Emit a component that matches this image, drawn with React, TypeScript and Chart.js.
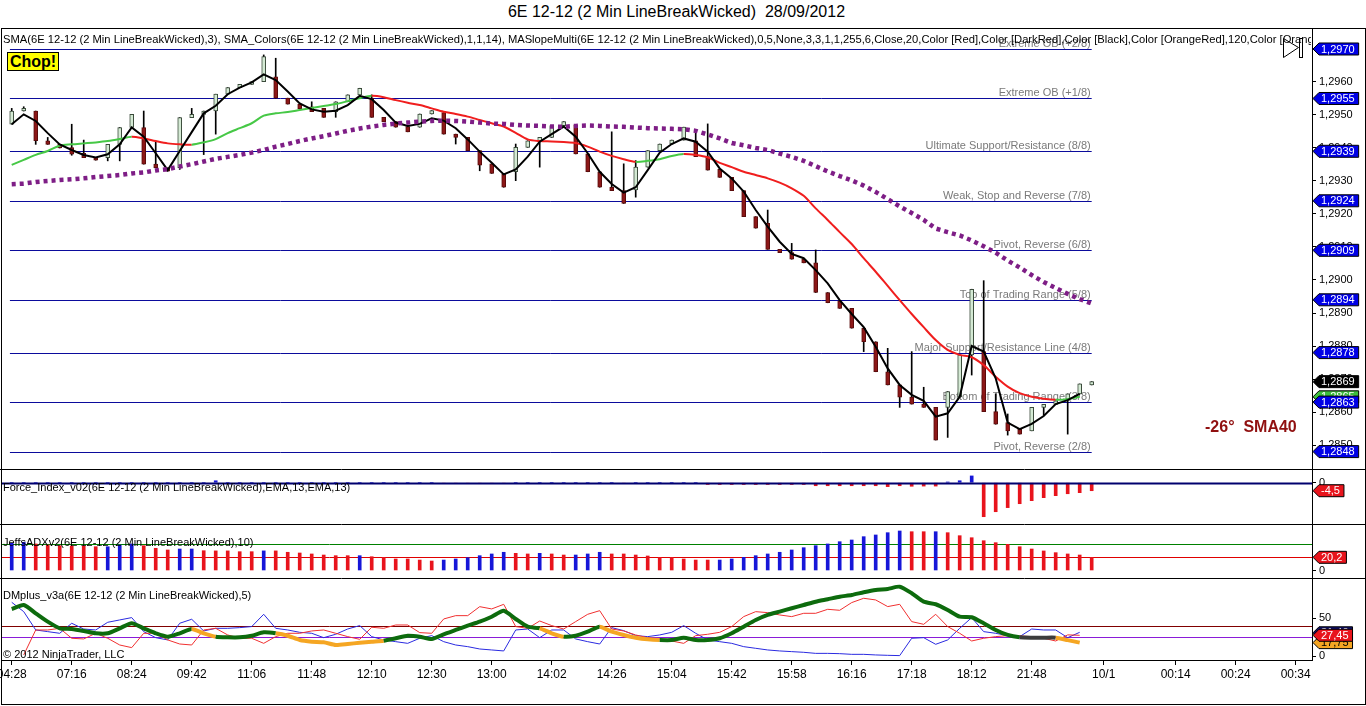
import React, { useEffect, useRef } from 'react';
import { Chart, registerables } from 'chart.js';

Chart.register(...registerables);

const FONT = 'Arial, "Liberation Sans", sans-serif';

// bar index range shown on the time axis (last bars are empty future slots)
const X_MIN = -0.81;
const X_MAX = 108.36;

const X_TICK_POS = [0, 5, 10, 15, 20, 25, 30, 35, 40, 45, 50, 55, 60, 65, 70, 75, 80, 85, 91, 97, 102, 107];
const X_TICK_LABELS = ['04:28', '07:16', '08:24', '09:42', '11:06', '11:48', '12:10', '12:30', '13:00', '14:02', '14:26',
  '15:04', '15:42', '15:58', '16:16', '17:18', '18:12', '21:48', '10/1', '00:14', '00:24', '00:34'];

// 2 min line break wicked bars
const OPEN = [1.29472, 1.29512, 1.29512, 1.29422, 1.29411, 1.29401, 1.29384, 1.29371, 1.29371, 1.29411,
  1.29462, 1.29462, 1.29351, 1.29340, 1.29340, 1.29492, 1.29502, 1.29512, 1.29563, 1.29583,
  1.29593, 1.29601, 1.29616, 1.29551, 1.29533, 1.29525, 1.29520, 1.29510, 1.29540, 1.29561,
  1.29551, 1.29493, 1.29480, 1.29465, 1.29463, 1.29503, 1.29507, 1.29442, 1.29432, 1.29392,
  1.29352, 1.29321, 1.29328, 1.29402, 1.29422, 1.29432, 1.29468, 1.29470, 1.29382, 1.29328,
  1.29281, 1.29271, 1.29273, 1.29342, 1.29392, 1.29412, 1.29424, 1.29422, 1.29374, 1.29335,
  1.29311, 1.29271, 1.29192, 1.29172, 1.29093, 1.29083, 1.29063, 1.29052, 1.28962, 1.28937,
  1.28914, 1.28854, 1.28813, 1.28722, 1.28682, 1.28645, 1.28624, 1.28614, 1.28614, 1.28646,
  1.28773, 1.28783, 1.28601, 1.28568, 1.28549, 1.28543, 1.28614, 1.28623, 1.28639, 1.28655,
  1.28682];
const HIGH = [1.29520, 1.29525, 1.29512, 1.29432, 1.29411, 1.29472, 1.29424, 1.29371, 1.29411, 1.29462,
  1.29502, 1.29512, 1.29421, 1.29340, 1.29492, 1.29520, 1.29512, 1.29563, 1.29583, 1.29593,
  1.29601, 1.29682, 1.29672, 1.29551, 1.29533, 1.29540, 1.29520, 1.29540, 1.29561, 1.29581,
  1.29561, 1.29493, 1.29480, 1.29465, 1.29503, 1.29513, 1.29507, 1.29442, 1.29432, 1.29392,
  1.29352, 1.29321, 1.29412, 1.29422, 1.29432, 1.29468, 1.29480, 1.29470, 1.29382, 1.29328,
  1.29449, 1.29352, 1.29362, 1.29392, 1.29412, 1.29424, 1.29463, 1.29455, 1.29473, 1.29335,
  1.29311, 1.29271, 1.29192, 1.29212, 1.29093, 1.29111, 1.29063, 1.29091, 1.28962, 1.28937,
  1.28914, 1.28854, 1.28813, 1.28793, 1.28682, 1.28783, 1.28675, 1.28614, 1.28662, 1.28773,
  1.28972, 1.28998, 1.28655, 1.28594, 1.28549, 1.28614, 1.28623, 1.28634, 1.28655, 1.28685,
  1.28692];
const LOW = [1.29472, 1.29512, 1.29411, 1.29411, 1.29400, 1.29378, 1.29371, 1.29363, 1.29361, 1.29361,
  1.29462, 1.29351, 1.29340, 1.29330, 1.29335, 1.29492, 1.29380, 1.29442, 1.29563, 1.29583,
  1.29593, 1.29601, 1.29551, 1.29533, 1.29519, 1.29510, 1.29493, 1.29493, 1.29540, 1.29561,
  1.29493, 1.29480, 1.29463, 1.29449, 1.29463, 1.29503, 1.29442, 1.29412, 1.29392, 1.29331,
  1.29323, 1.29281, 1.29301, 1.29402, 1.29342, 1.29432, 1.29468, 1.29382, 1.29328, 1.29281,
  1.29271, 1.29232, 1.29251, 1.29342, 1.29392, 1.29412, 1.29424, 1.29374, 1.29333, 1.29311,
  1.29271, 1.29192, 1.29157, 1.29093, 1.29083, 1.29063, 1.29052, 1.28962, 1.28931, 1.28914,
  1.28854, 1.28783, 1.28722, 1.28682, 1.28614, 1.28624, 1.28614, 1.28515, 1.28523, 1.28646,
  1.28712, 1.28601, 1.28563, 1.28530, 1.28533, 1.28543, 1.28591, 1.28623, 1.28533, 1.28655,
  1.28682];
const CLOSE = [1.29512, 1.29520, 1.29422, 1.29411, 1.29400, 1.29381, 1.29371, 1.29363, 1.29411, 1.29462,
  1.29502, 1.29351, 1.29340, 1.29330, 1.29492, 1.29502, 1.29512, 1.29563, 1.29583, 1.29593,
  1.29601, 1.29677, 1.29551, 1.29533, 1.29519, 1.29510, 1.29493, 1.29540, 1.29561, 1.29581,
  1.29493, 1.29480, 1.29463, 1.29449, 1.29503, 1.29513, 1.29442, 1.29432, 1.29392, 1.29348,
  1.29323, 1.29281, 1.29402, 1.29422, 1.29432, 1.29468, 1.29480, 1.29382, 1.29328, 1.29281,
  1.29271, 1.29232, 1.29342, 1.29392, 1.29412, 1.29424, 1.29463, 1.29374, 1.29333, 1.29311,
  1.29271, 1.29192, 1.29157, 1.29093, 1.29083, 1.29063, 1.29052, 1.28962, 1.28931, 1.28914,
  1.28854, 1.28813, 1.28722, 1.28682, 1.28645, 1.28624, 1.28614, 1.28515, 1.28662, 1.28773,
  1.28972, 1.28601, 1.28563, 1.28543, 1.28533, 1.28614, 1.28623, 1.28634, 1.28655, 1.28685,
  1.28692];

// SMA(3) - black
const SMA3 = [1.29472, 1.29502, 1.29482, 1.29445, 1.29411, 1.29394, 1.29379, 1.29371, 1.29381, 1.29411,
  1.29462, 1.29434, 1.29384, 1.29333, 1.29391, 1.29448, 1.29505, 1.29528, 1.29563, 1.29583,
  1.29599, 1.29623, 1.29606, 1.29571, 1.29535, 1.29517, 1.29510, 1.29513, 1.29530, 1.29558,
  1.29548, 1.29515, 1.29477, 1.29467, 1.29473, 1.29490, 1.29483, 1.29460, 1.29426, 1.29389,
  1.29355, 1.29320, 1.29335, 1.29374, 1.29419, 1.29442, 1.29465, 1.29434, 1.29384, 1.29328,
  1.29291, 1.29265, 1.29281, 1.29333, 1.29386, 1.29412, 1.29429, 1.29419, 1.29389, 1.29338,
  1.29308, 1.29268, 1.29212, 1.29162, 1.29116, 1.29079, 1.29066, 1.29030, 1.28990, 1.28939,
  1.28897, 1.28857, 1.28798, 1.28732, 1.28682, 1.28652, 1.28634, 1.28586, 1.28596, 1.28646,
  1.28800, 1.28783, 1.28702, 1.28568, 1.28548, 1.28564, 1.28588, 1.28624, 1.28636, 1.28655,
  null];

// SMA_Colors(14) - green rising / red falling
const SMA14 = [1.29349, 1.29364, 1.29379, 1.29391, 1.29407, 1.29411, 1.29414, 1.29417, 1.29421, 1.29427,
  1.29434, 1.29429, 1.29421, 1.29414, 1.29411, 1.29410, 1.29417, 1.29427, 1.29445, 1.29460,
  1.29475, 1.29498, 1.29505, 1.29509, 1.29515, 1.29521, 1.29527, 1.29533, 1.29542, 1.29551,
  1.29558, 1.29554, 1.29545, 1.29537, 1.29530, 1.29520, 1.29510, 1.29503, 1.29495, 1.29485,
  1.29475, 1.29465, 1.29446, 1.29426, 1.29421, 1.29420, 1.29418, 1.29415, 1.29404, 1.29389,
  1.29376, 1.29366, 1.29358, 1.29361, 1.29366, 1.29376, 1.29382, 1.29379, 1.29372, 1.29355,
  1.29342, 1.29328, 1.29318, 1.29308, 1.29295, 1.29278, 1.29255, 1.29217, 1.29182, 1.29145,
  1.29109, 1.29066, 1.29025, 1.28982, 1.28939, 1.28897, 1.28857, 1.28818, 1.28788, 1.28773,
  1.28766, 1.28742, 1.28707, 1.28677, 1.28657, 1.28646, 1.28640, 1.28637, 1.28639, 1.28646,
  null];

// MASlopeMulti SMA40 - purple dots
const SLOPE_MA = [1.29290, 1.29292, 1.29297, 1.29300, 1.29303, 1.29305, 1.29308, 1.29312, 1.29315, 1.29318,
  1.29323, 1.29326, 1.29332, 1.29336, 1.29344, 1.29351, 1.29359, 1.29367, 1.29373, 1.29379,
  1.29386, 1.29394, 1.29404, 1.29412, 1.29421, 1.29429, 1.29436, 1.29444, 1.29452, 1.29459,
  1.29465, 1.29470, 1.29474, 1.29477, 1.29480, 1.29482, 1.29483, 1.29482, 1.29480, 1.29477,
  1.29474, 1.29473, 1.29470, 1.29468, 1.29467, 1.29465, 1.29464, 1.29467, 1.29468, 1.29467,
  1.29465, 1.29464, 1.29462, 1.29460, 1.29459, 1.29458, 1.29457, 1.29452, 1.29441, 1.29429,
  1.29415, 1.29408, 1.29400, 1.29394, 1.29383, 1.29373, 1.29361, 1.29345, 1.29329, 1.29315,
  1.29302, 1.29286, 1.29267, 1.29245, 1.29223, 1.29203, 1.29182, 1.29156, 1.29145, 1.29135,
  1.29120, 1.29102, 1.29083, 1.29059, 1.29038, 1.29015, 1.28994, 1.28976, 1.28958, 1.28942,
  1.28929];

const MURREY_LEVELS = [1.2970, 1.2955, 1.2939, 1.2924, 1.2909, 1.2894, 1.2878, 1.2863, 1.2848];
const MURREY_LABELS = ['Extreme OB (+2/8)', 'Extreme OB (+1/8)', 'Ultimate Support/Resistance (8/8)',
  'Weak, Stop and Reverse (7/8)', 'Pivot, Reverse (6/8)', 'Top of Trading Range (5/8)',
  'Major Support/Resistance Line (4/8)', 'Bottom of Trading Range (3/8)', 'Pivot, Reverse (2/8)'];
const MURREY_FROM = -0.15;
const MURREY_TO = 90;

const MAIN_TICKS = [1.2850, 1.2860, 1.2870, 1.2880, 1.2890, 1.2900, 1.2910, 1.2920, 1.2930, 1.2940, 1.2950, 1.2960, 1.2970];

// Force_Index_v02
const FORCE = [0, 0, 0, 0, 0, 0, 0, 0, 0, 0,
  0, 0, 0, 0, 0, 0, 0, 1.1, 0, 0,
  0, 0, 0, 0, 0, 0, 0, 0, 0, 0,
  0, 0, 0, 0, 0, 0, -0.5, -0.5, -0.5, -0.4,
  -0.4, -0.3, 0, 0, 0, 0, 0, 0, 0, 0,
  0, -0.4, 0, 0, 0, 0, 0, 0, -1, -1,
  -1, -1, -1, -1, -1, -1, -1, -1.7, -1.7, -1.7,
  -1.7, -1.7, -1.7, -2.2, -1.7, -2, -1.9, -1.9, 0.4, 1.1,
  3.8, -19.1, -16.3, -14, -11.8, -10.1, -8.4, -7.3, -6.2, -5.6,
  -4.5];

// JeffsADXv2
const ADX = [41.6, 43.2, 40.6, 39, 38, 37.5, 37.5, 36.4, 36.4, 39,
  40.6, 38, 34, 31.4, 32.9, 32.9, 30.3, 30, 30, 28.8,
  28.8, 30, 30, 27.9, 26.8, 25.3, 23.7, 22.7, 22.7, 22.7,
  21.1, 20.2, 17.6, 17.6, 16, 14.5, 16, 17.6, 19.6, 22.7,
  25.3, 27.9, 26.3, 25.3, 26.3, 25.3, 23.7, 23.7, 25.3, 27.9,
  25.3, 25.3, 23.7, 22.2, 20.2, 20.2, 17.6, 16, 16, 16,
  17.6, 20.2, 22.7, 25.3, 27.9, 31.4, 34.9, 38, 40.6, 44.1,
  46.7, 51.8, 54.4, 57.9, 60.5, 59.4, 59.4, 59.4, 57.9, 53.3,
  50.2, 45.6, 42.6, 40.1, 36.4, 32.9, 29.9, 27.3, 25.3, 23.7,
  20.2];
// 1 = +DI leads (blue), -1 = -DI leads (red)
const ADX_DIR = [1, 1, -1, -1, -1, -1, -1, -1, 1, 1,
  1, -1, -1, -1, 1, 1, -1, -1, -1, -1,
  -1, 1, -1, -1, -1, -1, -1, -1, -1, 1,
  -1, -1, -1, -1, -1, -1, 1, 1, 1, 1,
  1, 1, -1, -1, 1, -1, -1, 1, 1, 1,
  -1, -1, -1, -1, -1, -1, -1, -1, -1, 1,
  1, 1, 1, 1, 1, 1, 1, 1, 1, 1,
  1, 1, 1, 1, 1, -1, -1, 1, -1, -1,
  -1, -1, -1, -1, -1, -1, -1, -1, -1, -1,
  -1];
const ADX_LEVELS = [40, 20];

// DMplus_v3a
const DM_MAIN = [62.3, 67.6, 56.6, 45.5, 36.7, 35.8, 33.2, 30.1, 30.1, 36.7,
  43.4, 36.7, 30.1, 25.6, 30.1, 35.8, 30.1, 25.6, 24.8, 24.8,
  26.9, 31.4, 30.1, 26.9, 21.2, 19, 18.2, 14.6, 15.9, 17.6,
  19, 20.3, 23.5, 26.9, 25.6, 22.5, 28.8, 34.5, 40.2, 45.5,
  52.1, 60.1, 49.1, 38.9, 36.7, 30.1, 25.6, 26.9, 32.2, 38.9,
  32.2, 27.9, 24.3, 22.1, 21.2, 21.2, 24.3, 21.2, 21.2, 23.5,
  30.1, 38.9, 47.7, 54.4, 58.8, 63.3, 67.6, 72, 75.2, 78.6,
  80.9, 84.5, 87.5, 88.9, 91.9, 83.2, 72, 68.6, 61, 52.1,
  51.3, 43.4, 34.5, 27.9, 24.8, 24.3, 24.3, 24.3, 21, 17.75];
// 1 = trending, 0 = weak, 2 = flat
const DM_TREND = [1, 1, 1, 1, 1, 1, 1, 1, 1, 1,
  1, 1, 1, 1, 1, 0, 0, 1, 1, 1,
  1, 1, 0, 0, 0, 0, 0, 0, 0, 0,
  0, 1, 1, 1, 1, 1, 1, 1, 1, 1,
  1, 1, 1, 1, 0, 0, 1, 1, 1, 0,
  0, 0, 0, 0, 1, 1, 1, 1, 1, 1,
  1, 1, 1, 1, 1, 1, 1, 1, 1, 1,
  1, 1, 1, 1, 1, 1, 1, 1, 1, 1,
  1, 1, 1, 1, 2, 2, 2, 0, 0, 0];
const DM_PLUS = [null, 1.4, 34.5, 34.5, 36.7, 23.5, 22.6, 30.1, 23.5, 14.6,
  11.1, 30.1, 30.1, 21.3, 15.9, 14.6, 34.5, 36.7, 27.9, 23.5,
  23.5, 16.8, 25.7, 30.1, 30.1, 33.2, 34.5, 30.1, 25.7, 22.1,
  38.1, 36.7, 41.1, 41.1, 31, 30.1, 49.1, 53.5, 53.5, 65.4,
  62.4, 68.5, 39, 36.7, 46.4, 40.3, 35.8, 45.6, 55.3, 60.1,
  35.8, 33.2, 27.9, 24.3, 22.6, 19.9, 16.8, 27, 28.8, 31.4,
  39, 52.2, 58.8, 57.5, 54.4, 52.2, 56.6, 56.6, 61.9, 60.6,
  70.8, 76.5, 74.3, 65.5, 68.5, 45.6, 42, 55.3, 39, 30.1,
  19.9, 23.5, 25.7, 27, 26.6, 25.7, 23.5, 19.9, 28, 27.45];
const DM_MINUS = [71.2, 58.8, 34.5, 32.3, 30.1, 43.4, 35.8, 34.5, 44.7, 47.8,
  50.9, 32.3, 24.3, 21.3, 43.4, 48.7, 33.2, 36.7, 36.7, 37.6,
  39, 55.3, 36.7, 34.5, 31.4, 30.1, 24.3, 28.8, 35.8, 40.3,
  25.7, 21.3, 19, 16.8, 23.5, 27, 19, 14.6, 12.4, 9.3,
  8, 6.7, 34.5, 35.8, 24.3, 34.5, 34.5, 22.6, 19, 15.9,
  37.6, 33.6, 27, 25.7, 27.9, 31.4, 40.3, 30.1, 21.3, 19,
  16.8, 12.4, 10.2, 8, 6.7, 5.8, 4.9, 3.5, 3.5, 3.1,
  2.2, 2.2, 1.4, 0.9, 0.5, 23.5, 24.3, 15.5, 21.3, 36.7,
  50.9, 32.3, 30.1, 27, 25.7, 35.8, 34.5, 34.5, 24.3, 31.4];
const DM_LEVELS = [40, 25];
const DM_TICKS = [0, 50];

const UP_BODY = '#D4EAD4';
const DOWN_BODY = '#8C1818';
const RED = '#E8141C';
const BLUE = '#1616D8';
const TREND_COLORS = ['#F5A623', '#0D6B0D', '#3C3C3C'];

const fmt = (v: number, d: number) => v.toFixed(d).replace('.', ',');
const pts = (arr: (number | null)[]) => arr.map((y, x) => ({ x, y }));

function drawTag(ctx: CanvasRenderingContext2D, x: number, y: number, text: string, fill: string, color = '#fff') {
  ctx.save();
  ctx.font = `11px ${FONT}`;
  const w = ctx.measureText(text).width + 6;
  const h = 12;
  ctx.beginPath();
  ctx.moveTo(x, y);
  ctx.lineTo(x + 6, y - h / 2);
  ctx.lineTo(x + 6 + w, y - h / 2);
  ctx.lineTo(x + 6 + w, y + h / 2);
  ctx.lineTo(x + 6, y + h / 2);
  ctx.closePath();
  ctx.fillStyle = fill;
  ctx.fill();
  ctx.strokeStyle = '#000';
  ctx.lineWidth = 1;
  ctx.stroke();
  ctx.fillStyle = color;
  ctx.textAlign = 'left';
  ctx.textBaseline = 'middle';
  ctx.fillText(text, x + 8, y + 0.5);
  ctx.restore();
}

function topSeparator(chart: any) {
  const { ctx, width } = chart;
  ctx.save();
  ctx.strokeStyle = '#000';
  ctx.lineWidth = 1;
  ctx.beginPath();
  ctx.moveTo(0, 0.5);
  ctx.lineTo(width, 0.5);
  ctx.stroke();
  ctx.restore();
}

function levelLines(chart: any, levels: number[], colors: string[], lineWidth = 1) {
  const { ctx, chartArea, scales } = chart;
  ctx.save();
  levels.forEach((v, k) => {
    const py = Math.round(scales.y.getPixelForValue(v)) + 0.5;
    ctx.strokeStyle = colors[k];
    ctx.lineWidth = lineWidth;
    ctx.beginPath();
    ctx.moveTo(chartArea.left, py);
    ctx.lineTo(chartArea.right, py);
    ctx.stroke();
  });
  ctx.restore();
}

const xScale = (display: boolean) => ({
  type: 'linear' as const,
  min: X_MIN,
  max: X_MAX,
  offset: false,
  display,
  afterBuildTicks: (s: any) => { s.ticks = X_TICK_POS.map((value) => ({ value })); },
  afterFit: (s: any) => {
    s.height = display ? 45 : 0;
    s.paddingLeft = 0;
    s.paddingRight = 0;
  },
  grid: { drawOnChartArea: false, drawTicks: true, tickLength: 5, color: '#000' },
  border: { display: true, color: '#000' },
  ticks: {
    autoSkip: false, maxRotation: 0, padding: 2, color: '#000',
    font: { family: FONT, size: 12 },
    callback: (v: any) => X_TICK_LABELS[X_TICK_POS.indexOf(v)] ?? '',
  },
});

const yScale = (min: number, max: number, ticks: number[], format: (v: number) => string) => ({
  type: 'linear' as const,
  position: 'right' as const,
  min,
  max,
  beginAtZero: false,
  afterBuildTicks: (s: any) => { s.ticks = ticks.map((value) => ({ value })); },
  afterFit: (s: any) => { s.width = 54; s.paddingTop = 0; s.paddingBottom = 0; },
  grid: { drawOnChartArea: false, drawTicks: true, tickLength: 4, color: '#000' },
  border: { display: true, color: '#000' },
  ticks: { padding: 3, color: '#000', font: { family: FONT, size: 11 }, callback: (v: any) => format(v) },
});

const baseOptions = {
  animation: false as const,
  responsive: false,
  events: [] as any[],
  layout: { padding: { left: 2, right: 0, top: 0, bottom: 0 } },
  plugins: { legend: { display: false }, tooltip: { enabled: false }, title: { display: false } },
};

const mainDecor = {
  id: 'mainDecor',
  beforeDatasetsDraw(chart: any) {
    const { ctx, scales } = chart;
    const x0 = scales.x.getPixelForValue(MURREY_FROM);
    const x1 = scales.x.getPixelForValue(MURREY_TO);
    ctx.save();
    MURREY_LEVELS.forEach((v, k) => {
      const py = Math.round(scales.y.getPixelForValue(v)) + 0.5;
      ctx.strokeStyle = '#0B0B9C';
      ctx.lineWidth = 1;
      ctx.beginPath();
      ctx.moveTo(x0, py);
      ctx.lineTo(x1, py);
      ctx.stroke();
      ctx.font = `11px ${FONT}`;
      ctx.fillStyle = '#7A7A7A';
      ctx.textAlign = 'right';
      ctx.textBaseline = 'alphabetic';
      ctx.fillText(MURREY_LABELS[k], x1 - 1, py - 3);
    });
    ctx.restore();
  },
  afterDraw(chart: any) {
    const { ctx, scales, chartArea } = chart;
    const tx = chartArea.right + 1;
    const last = CLOSE.length - 1;
    drawTag(ctx, tx, scales.y.getPixelForValue(SMA14[last - 1] as number), fmt(SMA14[last - 1] as number, 4), '#3DBE3D');
    drawTag(ctx, tx, scales.y.getPixelForValue(CLOSE[last]), fmt(CLOSE[last], 4), '#000');
    MURREY_LEVELS.forEach((v) => drawTag(ctx, tx, scales.y.getPixelForValue(v), fmt(v, 4), '#0000E6'));
    // go-to-end icon
    ctx.save();
    ctx.strokeStyle = '#000';
    ctx.lineWidth = 1;
    ctx.beginPath();
    ctx.moveTo(1283.5, 10.5);
    ctx.lineTo(1298.5, 19.5);
    ctx.lineTo(1283.5, 29.5);
    ctx.closePath();
    ctx.stroke();
    ctx.strokeRect(1299.5, 10.5, 3, 19);
    ctx.restore();
  },
};

const forceDecor = {
  id: 'forceDecor',
  afterDatasetsDraw(chart: any) { levelLines(chart, [0], ['#00006E'], 2); },
  afterDraw(chart: any) {
    topSeparator(chart);
    const v = FORCE[FORCE.length - 1];
    drawTag(chart.ctx, chart.chartArea.right + 1, chart.scales.y.getPixelForValue(v), fmt(v, 1), RED);
  },
};

const adxDecor = {
  id: 'adxDecor',
  beforeDatasetsDraw(chart: any) { levelLines(chart, ADX_LEVELS, ['#008000', '#E00000']); },
  afterDraw(chart: any) {
    topSeparator(chart);
    const v = ADX[ADX.length - 1];
    drawTag(chart.ctx, chart.chartArea.right + 1, chart.scales.y.getPixelForValue(v), fmt(v, 1), RED);
  },
};

const dmDecor = {
  id: 'dmDecor',
  beforeDatasetsDraw(chart: any) { levelLines(chart, DM_LEVELS, ['#800000', '#8A1BD8']); },
  afterDraw(chart: any) {
    topSeparator(chart);
    const { ctx, scales, chartArea } = chart;
    const tx = chartArea.right + 1;
    const n = DM_MAIN.length - 1;
    const redY = scales.y.getPixelForValue(DM_PLUS[n] as number);
    // blue tag sits almost fully behind the red one
    drawTag(ctx, tx, redY - 2.5, fmt(DM_MINUS[n], 2), '#10106A');
    drawTag(ctx, tx, scales.y.getPixelForValue(DM_MAIN[n]), fmt(DM_MAIN[n], 2), '#F5A623', '#000');
    drawTag(ctx, tx, redY, fmt(DM_PLUS[n] as number, 2), RED);
  },
};

const textStyle: React.CSSProperties = {
  position: 'absolute', fontFamily: FONT, color: '#000', whiteSpace: 'pre', pointerEvents: 'none',
};

export default function App() {
  const mainRef = useRef<HTMLCanvasElement>(null);
  const forceRef = useRef<HTMLCanvasElement>(null);
  const adxRef = useRef<HTMLCanvasElement>(null);
  const dmRef = useRef<HTMLCanvasElement>(null);

  useEffect(() => {
    const charts: Chart[] = [];

    if (mainRef.current) {
      charts.push(new Chart(mainRef.current, {
        type: 'bar',
        data: {
          datasets: [
            {
              type: 'line', data: pts(SLOPE_MA), borderColor: '#7E1E86', borderWidth: 4.5,
              borderDash: [4, 4], borderCapStyle: 'butt', pointRadius: 0, order: 0,
            } as any,
            {
              type: 'line', data: pts(SMA3), borderColor: '#000', borderWidth: 2, pointRadius: 0,
              tension: 0, order: 1,
            },
            {
              type: 'line', data: pts(SMA14), borderColor: '#F01E1E', borderWidth: 2, pointRadius: 0,
              tension: 0.3, order: 2,
              segment: { borderColor: (c: any) => (c.p1.parsed.y >= c.p0.parsed.y ? '#46C846' : '#F01E1E') },
            },
            {
              type: 'bar', data: OPEN.map((o, i) => ({ x: i, y: [o, CLOSE[i]] })) as any,
              backgroundColor: (c: any) => (CLOSE[c.dataIndex] >= OPEN[c.dataIndex] ? UP_BODY : DOWN_BODY),
              borderColor: (c: any) => (CLOSE[c.dataIndex] >= OPEN[c.dataIndex] ? '#3A4A3A' : '#5A0C0C'),
              borderWidth: 1, borderSkipped: false, barThickness: 4, minBarLength: 2, grouped: false, order: 3,
            },
            {
              type: 'bar', data: LOW.map((l, i) => ({ x: i, y: [l, HIGH[i]] })) as any,
              backgroundColor: '#000', borderWidth: 0, barThickness: 1, grouped: false, order: 4,
            },
          ],
        },
        options: {
          ...baseOptions,
          scales: {
            x: xScale(false),
            y: yScale(1.284273, 1.297636, MAIN_TICKS, (v) => fmt(v, 4)),
          },
        } as any,
        plugins: [mainDecor],
      }));
    }

    if (forceRef.current) {
      charts.push(new Chart(forceRef.current, {
        type: 'bar',
        data: {
          datasets: [{
            data: pts(FORCE) as any,
            backgroundColor: (c: any) => (FORCE[c.dataIndex] >= 0 ? BLUE : RED),
            borderWidth: 0, barThickness: 3, grouped: false,
          }],
        },
        options: {
          ...baseOptions,
          scales: { x: xScale(false), y: yScale(-23.2, 7.7, [0], (v) => String(v)) },
        } as any,
        plugins: [forceDecor],
      }));
    }

    if (adxRef.current) {
      charts.push(new Chart(adxRef.current, {
        type: 'bar',
        data: {
          datasets: [{
            data: pts(ADX) as any,
            backgroundColor: (c: any) => (ADX_DIR[c.dataIndex] > 0 ? BLUE : RED),
            borderWidth: 0, barThickness: 3, grouped: false,
          }],
        },
        options: {
          ...baseOptions,
          scales: { x: xScale(false), y: yScale(-11.5, 71.2, [0], (v) => String(v)) },
        } as any,
        plugins: [adxDecor],
      }));
    }

    if (dmRef.current) {
      charts.push(new Chart(dmRef.current, {
        type: 'line',
        data: {
          datasets: [
            {
              data: pts(DM_MAIN), borderColor: TREND_COLORS[1], borderWidth: 4, pointRadius: 0,
              tension: 0.2, order: 0,
              segment: { borderColor: (c: any) => TREND_COLORS[DM_TREND[c.p0DataIndex]] },
            },
            { data: pts(DM_PLUS), borderColor: '#F03030', borderWidth: 1, pointRadius: 0, order: 1 },
            { data: pts(DM_MINUS), borderColor: '#2A2AE0', borderWidth: 1, pointRadius: 0, order: 2 },
          ],
        },
        options: {
          ...baseOptions,
          scales: { x: xScale(true), y: yScale(-5.3, 103.4, DM_TICKS, (v) => String(v)) },
        } as any,
        plugins: [dmDecor],
      }));
    }

    return () => charts.forEach((c) => c.destroy());
  }, []);

  const canvasStyle = (top: number, height: number): React.CSSProperties => ({
    position: 'absolute', left: 0, top, width: 1366, height,
  });

  return (
    <div style={{ position: 'absolute', left: 0, top: 0, width: 1366, height: 706, background: '#fff', overflow: 'hidden' }}>
      <div style={{ ...textStyle, left: 0, top: 3, width: 1353, textAlign: 'center', fontSize: 16 }}>
        {'6E 12-12 (2 Min LineBreakWicked)  28/09/2012'}
      </div>
      <canvas ref={mainRef} width={1366} height={441} style={canvasStyle(28, 441)} />
      <canvas ref={forceRef} width={1366} height={55} style={canvasStyle(469, 55)} />
      <canvas ref={adxRef} width={1366} height={54} style={canvasStyle(524, 54)} />
      <canvas ref={dmRef} width={1366} height={127} style={canvasStyle(578, 127)} />

      <div style={{ ...textStyle, left: 3, top: 33, width: 1308, overflow: 'hidden', fontSize: 11.2 }}>
        {'SMA(6E 12-12 (2 Min LineBreakWicked),3), SMA_Colors(6E 12-12 (2 Min LineBreakWicked),1,1,14), MASlopeMulti(6E 12-12 (2 Min LineBreakWicked),0,5,None,3,3,1,1,255,6,Close,20,Color [Red],Color [DarkRed],Color [Black],Color [OrangeRed],120,Color [Orange]'}
      </div>
      <div style={{
        ...textStyle, left: 7, top: 52, width: 52, height: 19, boxSizing: 'border-box', background: '#FFFF00',
        border: '1px solid #000', fontWeight: 'bold', fontSize: 16, lineHeight: '17px', textAlign: 'center',
      }}>
        Chop!
      </div>
      <div style={{ ...textStyle, left: 1205, top: 418, fontSize: 16, fontWeight: 'bold', color: '#901010' }}>
        {'-26°  SMA40'}
      </div>
      <div style={{ ...textStyle, left: 3, top: 481, fontSize: 11 }}>
        {'Force_Index_v02(6E 12-12 (2 Min LineBreakWicked),EMA,13,EMA,13)'}
      </div>
      <div style={{ ...textStyle, left: 3, top: 536, fontSize: 11 }}>
        {'JeffsADXv2(6E 12-12 (2 Min LineBreakWicked),10)'}
      </div>
      <div style={{ ...textStyle, left: 3, top: 589, fontSize: 11 }}>
        {'DMplus_v3a(6E 12-12 (2 Min LineBreakWicked),5)'}
      </div>
      <div style={{ ...textStyle, left: 3, top: 648, fontSize: 11 }}>
        {'© 2012 NinjaTrader, LLC'}
      </div>
      <div style={{
        position: 'absolute', left: 1, top: 28, width: 1365, height: 677, boxSizing: 'border-box',
        border: '1px solid #000', pointerEvents: 'none',
      }} />
    </div>
  );
}
